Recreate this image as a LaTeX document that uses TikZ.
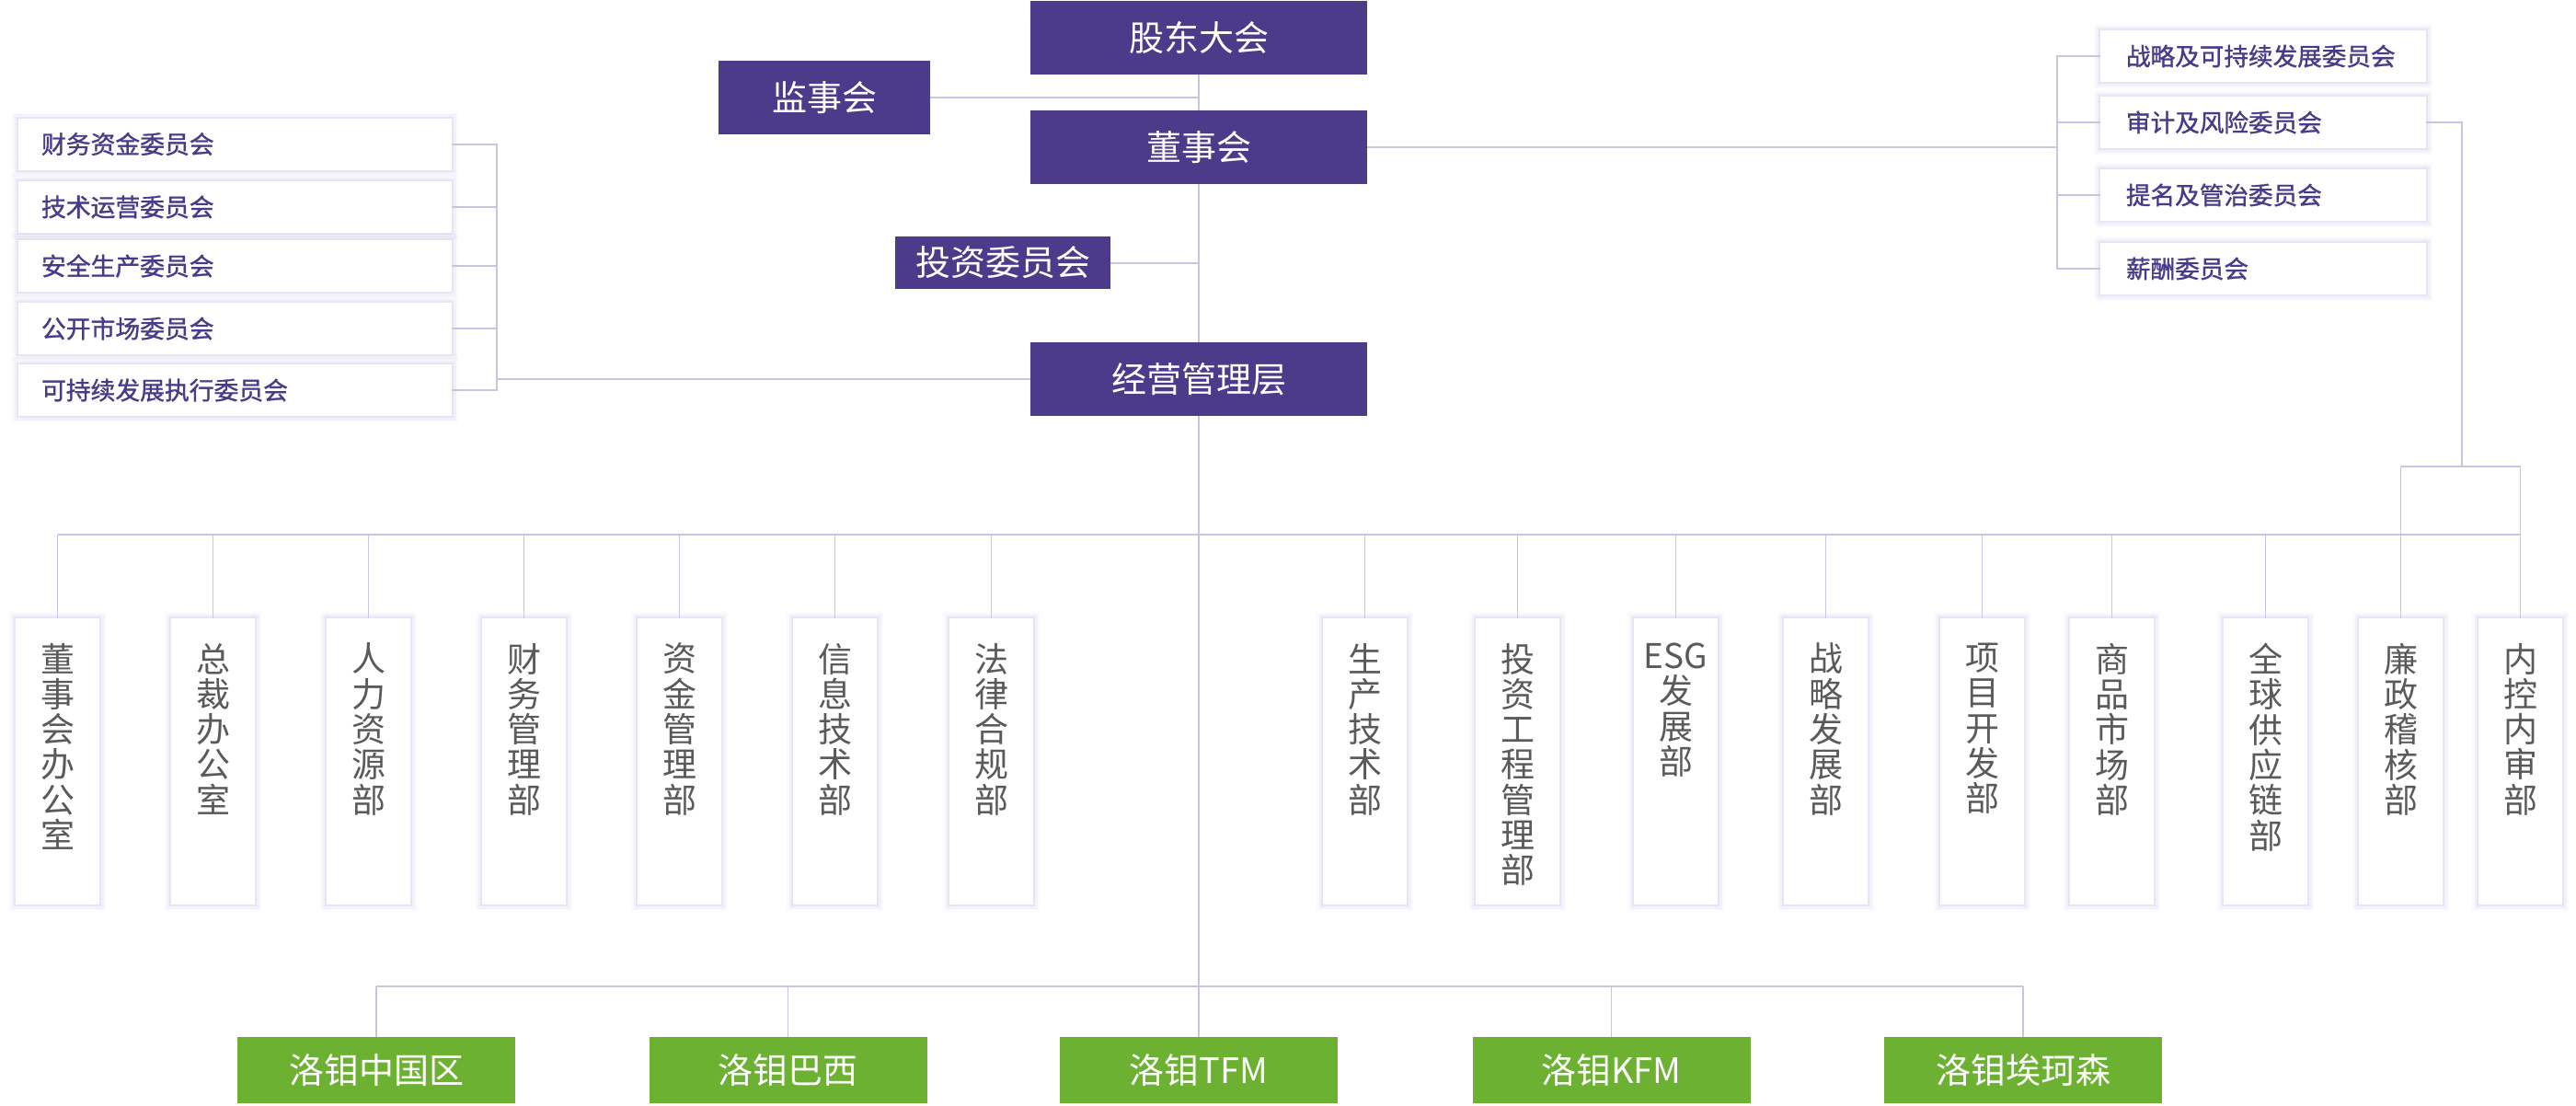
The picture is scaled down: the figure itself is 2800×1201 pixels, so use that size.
\documentclass[tikz,border=0pt]{standalone}
\usepackage{fontspec}
\setmainfont{Noto Sans CJK SC}
\newfontfamily\cjkmed{Noto Sans CJK SC}[FakeBold=1.2]
\usetikzlibrary{calc}
\definecolor{topc}{HTML}{4C3B8B}
\definecolor{grn}{HTML}{6DB133}
\definecolor{commc}{HTML}{4A3A8A}
\definecolor{linec}{HTML}{C9C4DF}
\definecolor{glowc}{HTML}{A999D8}
\definecolor{deptc}{HTML}{5A5A5A}
\newcommand{\vtext}[1]{\parbox[c][155.5pt][t]{45.5pt}{\centering\vspace*{13.5pt}#1}}
\begin{document}
\begin{tikzpicture}[x=0.5pt,y=-0.5pt,
  glow/.style={preaction={draw=glowc,line width=7pt,opacity=0.06},
               preaction={draw=glowc,line width=4.5pt,opacity=0.09},
               preaction={draw=glowc,line width=2pt,opacity=0.14}},
  topbox/.style={fill=topc,text=white,inner sep=0pt,minimum width=183pt,minimum height=40pt,
                 font=\fontsize{19}{19}\selectfont},
  lcomm/.style={glow,fill=white,inner xsep=12.5pt,inner ysep=0pt,text width=210.5pt,align=left,
                minimum height=28pt,text=commc,font=\cjkmed\fontsize{13.4}{13.4}\selectfont},
  rcomm/.style={glow,fill=white,inner xsep=14pt,inner ysep=0pt,text width=149pt,align=left,
                minimum height=28pt,text=commc,font=\cjkmed\fontsize{13.3}{13.3}\selectfont},
  dept/.style={glow,fill=white,inner sep=0pt,minimum width=45.5pt,minimum height=155.5pt,
               text=deptc,font=\fontsize{18.5}{19.15}\selectfont},
  sub/.style={fill=grn,text=white,inner sep=0pt,minimum width=151pt,minimum height=36pt,
              font=\fontsize{19}{19}\selectfont},
  conn/.style={draw=linec,line width=1pt},
  thin/.style={draw=linec,line width=0.7pt}]
\useasboundingbox (0,0) rectangle (2800,1201);

% top level
\node[topbox] (gd) at (1303,41) {股东大会};
\node[topbox,minimum width=115pt] (js) at (896,106) {监事会};
\node[topbox] (ds) at (1303,160) {董事会};
\node[topbox,minimum width=117pt,minimum height=28.5pt] (tz) at (1090,285.5) {投资委员会};
\node[topbox] (jy) at (1303,412) {经营管理层};

% left committees
\node[lcomm] (l1) at (255.5,156.5) {财务资金委员会};
\node[lcomm] (l2) at (255.5,225) {技术运营委员会};
\node[lcomm] (l3) at (255.5,289) {安全生产委员会};
\node[lcomm] (l4) at (255.5,357) {公开市场委员会};
\node[lcomm] (l5) at (255.5,424) {可持续发展执行委员会};

% right committees
\node[rcomm] (r1) at (2460,61) {战略及可持续发展委员会};
\node[rcomm] (r2) at (2460,133) {审计及风险委员会};
\node[rcomm] (r3) at (2460,212) {提名及管治委员会};
\node[rcomm] (r4) at (2460,292) {薪酬委员会};

% departments
\node[dept] (d1) at (62.5,827.5) {\vtext{董\\事\\会\\办\\公\\室}};
\node[dept] (d2) at (231.5,827.5) {\vtext{总\\裁\\办\\公\\室}};
\node[dept] (d3) at (400.5,827.5) {\vtext{人\\力\\资\\源\\部}};
\node[dept] (d4) at (569.5,827.5) {\vtext{财\\务\\管\\理\\部}};
\node[dept] (d5) at (738.5,827.5) {\vtext{资\\金\\管\\理\\部}};
\node[dept] (d6) at (907.5,827.5) {\vtext{信\\息\\技\\术\\部}};
\node[dept] (d7) at (1077.5,827.5) {\vtext{法\\律\\合\\规\\部}};
\node[dept] (d8) at (1483.5,827.5) {\vtext{生\\产\\技\\术\\部}};
\node[dept] (d9) at (1649.5,827.5) {\vtext{投\\资\\工\\程\\管\\理\\部}};
\node[dept] (d10) at (1821.5,827.5) {\vtext{ESG\\发\\展\\部}};
\node[dept] (d11) at (1984.5,827.5) {\vtext{战\\略\\发\\展\\部}};
\node[dept] (d12) at (2154.5,827.5) {\vtext{项\\目\\开\\发\\部}};
\node[dept] (d13) at (2295.5,827.5) {\vtext{商\\品\\市\\场\\部}};
\node[dept] (d14) at (2462.5,827.5) {\vtext{全\\球\\供\\应\\链\\部}};
\node[dept] (d15) at (2609.5,827.5) {\vtext{廉\\政\\稽\\核\\部}};
\node[dept] (d16) at (2739.5,827.5) {\vtext{内\\控\\内\\审\\部}};

% subsidiaries
\node[sub] (g1) at (409,1163) {洛钼中国区};
\node[sub] (g2) at (856.5,1163) {洛钼巴西};
\node[sub] (g3) at (1303,1163) {洛钼TFM};
\node[sub] (g4) at (1751.5,1163) {洛钼KFM};
\node[sub] (g5) at (2199,1163) {洛钼埃珂森};

% coordinates
\coordinate (lb) at (540,0);
\coordinate (rb) at (2236,0);
\coordinate (dbus) at (0,581);
\coordinate (gbus) at (0,1072);
\coordinate (aud) at (2676,507);

% spine
\draw[conn] (gd.south) -- (ds.north);
\draw[conn] (js.east) -- (js.east -| gd.south);
\draw[conn] (ds.south) -- (jy.north);
\draw[conn] (tz.east) -- (tz.east -| jy.north);
\draw[conn] (jy.south) -- (jy.south |- gbus);

% left bracket
\draw[conn] (l1.east) -- (l1.east -| lb) -- (l5.east -| lb) -- (l5.east);
\foreach \n in {l2,l3,l4} \draw[conn] (\n.east) -- (\n.east -| lb);
\draw[conn] (jy.west) -- (jy.west -| lb);

% right bracket
\draw[conn] (r1.west) -- (r1.west -| rb) -- (r4.west -| rb) -- (r4.west);
\foreach \n in {r2,r3} \draw[conn] (\n.west) -- (\n.west -| rb);
\draw[conn] (ds.east) -- (ds.east -| rb);

% audit branch
\draw[conn] (r2.east) -- (r2.east -| aud) -- (aud);
\draw[thin] (aud -| d15.north) -- (aud -| d16.north);
\draw[thin] (aud -| d15.north) -- (d15.north);
\draw[thin] (aud -| d16.north) -- (d16.north);

% department bus
\draw[thin] (d1.north |- dbus) -- (d16.north |- dbus);
\foreach \n in {d1,d2,d3,d4,d5,d6,d7,d8,d9,d10,d11,d12,d13,d14}
  \draw[thin] (\n.north |- dbus) -- (\n.north);

% subsidiary bus
\draw[conn] (g1.north |- gbus) -- (g5.north |- gbus);
\foreach \n in {g1,g2,g3,g4,g5}
  \draw[thin] (\n.north |- gbus) -- (\n.north);
\end{tikzpicture}
\end{document}
